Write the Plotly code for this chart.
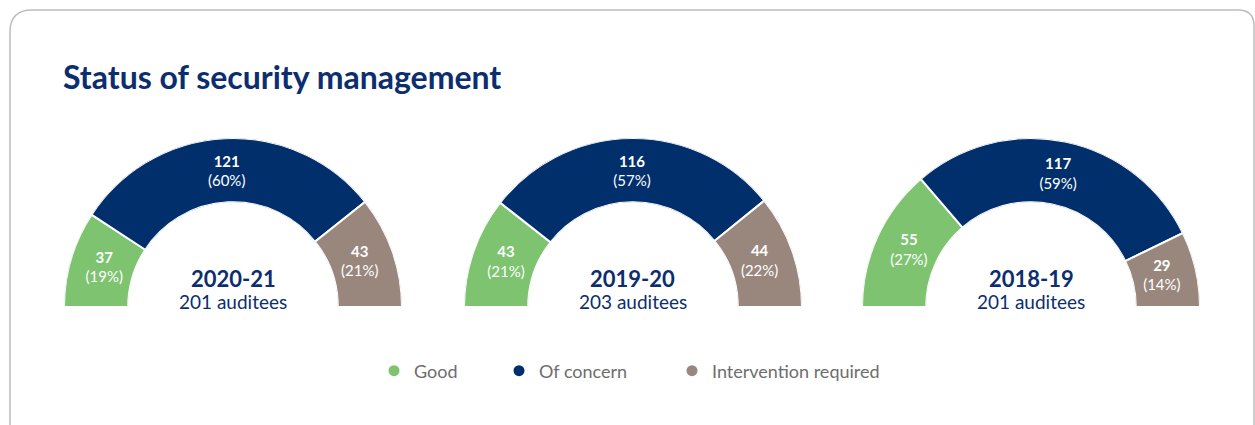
import plotly.graph_objects as go

# Audit results by year
years = ["2020-21", "2019-20", "2018-19"]
categories = ["Good", "Of concern", "Intervention required"]
good = [37, 43, 55]
of_concern = [121, 116, 117]
intervention = [43, 44, 29]
pct_good = [19, 21, 27]
pct_concern = [60, 57, 59]
pct_intervention = [21, 22, 14]

colors = ["#7dc370", "#012f6c", "#99877d"]
navy = "#0c2e6e"
FONT = "Lato"

W, H = 1255, 425
centers_px = [233, 633, 1031]   # gauge centres (pixels)
base_px = 307                   # baseline of the half rings
R_px = 169                      # outer radius


def px_x(x):
    return x / W


def px_y(y):
    return 1 - y / H


fig = go.Figure()

for i, year in enumerate(years):
    counts = [good[i], of_concern[i], intervention[i]]
    pcts = [pct_good[i], pct_concern[i], pct_intervention[i]]
    total = sum(counts)
    widths = [c / total * 180 for c in counts]
    mids, start = [], 0.0
    for w in widths:
        mids.append(start + w / 2)
        start += w
    sub = "polar" if i == 0 else f"polar{i + 1}"

    fig.add_trace(go.Barpolar(
        r=[1, 1, 1], base=[0, 0, 0], theta=mids, width=widths,
        marker=dict(color=colors, line=dict(color="white", width=2)),
        subplot=sub, showlegend=False, hoverinfo="skip",
    ))
    fig.add_trace(go.Scatterpolar(
        r=[0.46, 0.46, 0.46], theta=mids, mode="text",
        text=[f"<b>{c}</b><br>({p}%)" for c, p in zip(counts, pcts)],
        textfont=dict(family=FONT, size=15, color="white"),
        subplot=sub, showlegend=False, hoverinfo="skip",
    ))

    cx = centers_px[i]
    fig.add_annotation(x=px_x(cx), y=px_y(278), xref="paper", yref="paper",
                       xanchor="center", yanchor="middle",
                       text=f"<b>{year}</b>", showarrow=False,
                       font=dict(family=FONT, size=22, color=navy))
    fig.add_annotation(x=px_x(cx), y=px_y(301), xref="paper", yref="paper",
                       xanchor="center", yanchor="middle",
                       text=f"{total} auditees", showarrow=False,
                       font=dict(family=FONT, size=19, color=navy))

    polar_cfg = dict(
        domain=dict(x=[px_x(cx - R_px), px_x(cx + R_px)],
                    y=[px_y(base_px), px_y(base_px - R_px)]),
        sector=[0, 180], hole=0.62, bgcolor="rgba(0,0,0,0)",
        radialaxis=dict(range=[0, 1], visible=False),
        angularaxis=dict(rotation=180, direction="clockwise", visible=False),
    )
    fig.update_layout(**{sub: polar_cfg})

# Legend entries, one legend box per category
legend_x = [394, 519, 692]
for j, (name, col) in enumerate(zip(categories, colors)):
    lg = "legend" if j == 0 else f"legend{j + 1}"
    fig.add_trace(go.Scatterpolar(
        r=[None], theta=[None], mode="markers", name=name,
        marker=dict(color=col, size=11, symbol="circle"),
        subplot="polar", legend=lg,
    ))
    fig.update_layout(**{lg: dict(
        x=px_x(legend_x[j] - 20), y=px_y(371), xanchor="left", yanchor="middle",
        bgcolor="rgba(0,0,0,0)", font=dict(family=FONT, size=18, color="#6d6d6d"),
        itemclick=False, itemdoubleclick=False,
    )})


# Card outline
def card_path():
    s = f"M {px_x(10)},{px_y(430)} L {px_x(10)},{px_y(32)} "
    s += f"Q {px_x(10)},{px_y(10)} {px_x(32)},{px_y(10)} "
    s += f"L {px_x(1238)},{px_y(10)} "
    s += f"Q {px_x(1254)},{px_y(10)} {px_x(1254)},{px_y(26)} "
    s += f"L {px_x(1254)},{px_y(430)}"
    return s


fig.add_shape(type="path", path=card_path(), xref="paper", yref="paper",
              line=dict(color="#bdbdbd", width=1.5), layer="below")

fig.add_annotation(x=px_x(61), y=px_y(76), xref="paper", yref="paper",
                   xanchor="left", yanchor="middle", showarrow=False,
                   text="<b>Status of security management</b>",
                   font=dict(family=FONT, size=32, color=navy))

fig.update_layout(
    width=W, height=H, margin=dict(l=0, r=0, t=0, b=0),
    paper_bgcolor="white", plot_bgcolor="white",
)

fig.write_html("out.html")
